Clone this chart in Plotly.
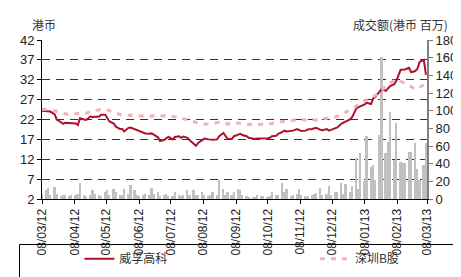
import pandas as pd
import plotly.graph_objects as go

# trading-day grid (every 2nd business day, 08/03/12 - 08/03/13)
dates = pd.bdate_range("2012-03-08", "2013-03-08")[::2]

weifu = [24.2, 24.1, 24.0, 24.0, 23.3, 22.0, 21.3, 20.9, 21.2, 21.1,
         21.2, 21.0, 20.6, 22.3, 22.0, 21.9, 22.8, 22.6, 22.7, 22.7,
         23.2, 23.2, 22.3, 21.5, 21.0, 20.2, 19.6, 19.6, 19.0, 19.9,
         20.0, 19.6, 19.3, 19.0, 18.8, 18.5, 18.4, 18.5, 18.2, 17.5,
         16.6, 16.9, 17.3, 17.6, 17.0, 17.6, 17.8, 17.4, 17.7, 17.4,
         16.8, 16.0, 15.4, 16.1, 16.8, 17.2, 17.0, 16.9, 16.9, 17.0,
         17.8, 18.6, 17.9, 17.1, 17.1, 17.8, 18.2, 18.4, 18.1, 17.8,
         17.4, 17.1, 17.1, 17.2, 17.2, 17.3, 17.3, 17.4, 17.8, 17.9,
         18.4, 18.9, 19.2, 19.0, 19.1, 19.2, 19.6, 19.3, 19.1, 19.2,
         19.5, 19.6, 19.8, 19.9, 19.4, 19.3, 19.6, 19.2, 19.4, 19.7,
         20.0, 21.0, 21.3, 21.6, 22.0, 22.6, 24.8, 25.1, 25.3, 25.8,
         26.2, 25.9, 27.3, 27.7, 29.0, 29.6, 29.2, 29.9, 30.4, 30.9,
         31.8, 34.5, 34.6, 34.6, 35.0, 33.9, 34.2, 34.8, 36.5, 37.0,
         33.2]

# 深圳B股 (rebased), sampled every 3rd grid point
szb = [24.6, 24.5, 23.7, 23.2, 23.5, 23.6, 24.3, 24.6, 23.8, 23.1,
       23.1, 23.0, 22.8, 23.0, 22.8, 22.7, 22.2, 21.4, 20.8, 20.9,
       21.3, 20.9, 21.1, 20.8, 20.7, 20.8, 21.0, 21.5, 21.7, 22.1,
       21.8, 21.9, 22.2, 22.6, 23.6, 24.6, 26.2, 27.4, 28.8, 31.0,
       32.0, 31.2, 29.6, 30.7]

volume = [6, 10, 12, 4.5, 14, 6, 3, 4, 4.5, 3,
          4.5, 4.5, 6, 18.5, 4, 3, 4.5, 10, 6, 4.5,
          3, 8, 10, 4.5, 11.5, 8, 4.5, 4.5, 11.5, 6,
          16, 10, 4.5, 3, 4.5, 6, 4.5, 13, 6, 8,
          3, 4.5, 6, 3, 3, 8, 4.5, 3, 4.5, 10,
          4.5, 10, 4.5, 4.5, 8, 4.5, 3, 4.5, 8, 4.5,
          21, 11.5, 4.5, 8, 4.5, 8, 11.5, 10, 4.5, 3,
          2, 1.5, 2, 4, 3.5, 3.5, 2, 3, 8, 4,
          5, 18, 8, 11.5, 3, 4.5, 6, 11.5, 5, 3,
          3, 4, 6, 7, 12, 4.5, 6, 15, 5, 8,
          8, 18.5, 6, 17, 8, 15, 46, 11.5, 52, 20,
          71, 36, 38, 22, 73, 161, 52, 65, 98, 44,
          86, 42, 41, 41, 53, 53, 63, 34, 22, 38,
          63]

tick_dates = ["2012-03-08", "2012-04-08", "2012-05-08", "2012-06-08", "2012-07-08",
              "2012-08-08", "2012-09-08", "2012-10-08", "2012-11-08", "2012-12-08",
              "2013-01-08", "2013-02-08", "2013-03-08"]
left_ticks = [2, 7, 12, 17, 22, 27, 32, 37, 42]
right_ticks = [0, 20, 40, 60, 80, 100, 120, 140, 160, 180]

fig = go.Figure()
fig.add_trace(go.Bar(x=dates[:len(volume)], y=volume, yaxis="y", marker_color="#c0c0c0",
                     marker_line_width=0, width=1.7 * 86400000, showlegend=False))
fig.add_trace(go.Scatter(x=dates[:len(weifu)], y=weifu, yaxis="y2", mode="lines",
                         name="威孚高科", legend="legend",
                         line=dict(color="#b0102e", width=2)))
fig.add_trace(go.Scatter(x=dates[::3][:len(szb)], y=szb, yaxis="y2", mode="lines",
                         name="深圳B股", legend="legend2",
                         line=dict(color="#f2b3b3", width=3, dash="5px,6px")))

W, H = 461, 277
L, R, T, B = 30, 29, 32, 72
pw, ph = W - L - R, H - T - B

def px_x(p):
    return (p - L) / pw

def px_y(p):
    return (H - B - p) / ph

font_num = "Liberation Sans Narrow, Arial Narrow, Liberation Sans, Arial"
font_cjk = "Noto Sans CJK SC"

leg_common = dict(orientation="h", yanchor="middle", xanchor="left",
                  font=dict(family=font_cjk, size=12, color="#333"),
                  bgcolor="rgba(0,0,0,0)", borderwidth=0)

fig.update_layout(
    width=W, height=H,
    margin=dict(l=L, r=R, t=T, b=B, pad=0),
    paper_bgcolor="white", plot_bgcolor="white",
    bargap=0,
    xaxis=dict(type="date", range=["2012-03-08", "2013-03-08"],
               tickvals=tick_dates, tickformat="%d/%m/%y", tickangle=-90,
               ticks="outside", ticklen=4, tickcolor="#000",
               showline=True, linecolor="#000", linewidth=1,
               showgrid=False, tickfont=dict(family=font_num, size=12, color="#222")),
    yaxis=dict(side="right", range=[0, 180], tickvals=right_ticks,
               ticks="outside", ticklen=4, tickcolor="#777",
               showline=True, linecolor="#808080", linewidth=2,
               showgrid=False, zeroline=False,
               tickfont=dict(family=font_num, size=13, color="#222")),
    yaxis2=dict(overlaying="y", side="left", range=[2, 42], tickvals=left_ticks,
                ticks="outside", ticklen=4, tickcolor="#000",
                showline=True, linecolor="#000", linewidth=1,
                showgrid=True, gridcolor="#333", gridwidth=1, griddash="8px,6px",
                zeroline=False,
                tickfont=dict(family=font_num, size=13, color="#222")),
    legend=dict(x=px_x(69), y=px_y(270), **leg_common),
    legend2=dict(x=px_x(315), y=px_y(270), **leg_common),
    shapes=[dict(type="rect", xref="paper", yref="paper",
                 x0=px_x(6.5), x1=px_x(475), y0=px_y(254.5), y1=px_y(295),
                 line=dict(color="#000", width=1), fillcolor="rgba(0,0,0,0)")],
    annotations=[
        dict(text="港币", xref="paper", yref="paper", x=px_x(17), y=px_y(15),
             xanchor="left", yanchor="middle", showarrow=False,
             font=dict(family=font_cjk, size=12, color="#333")),
        dict(text="成交额(港币 百万)", xref="paper", yref="paper", x=px_x(456), y=px_y(15),
             xanchor="right", yanchor="middle", showarrow=False,
             font=dict(family=font_cjk, size=12, color="#333")),
    ],
)

fig.write_html("out.html")
